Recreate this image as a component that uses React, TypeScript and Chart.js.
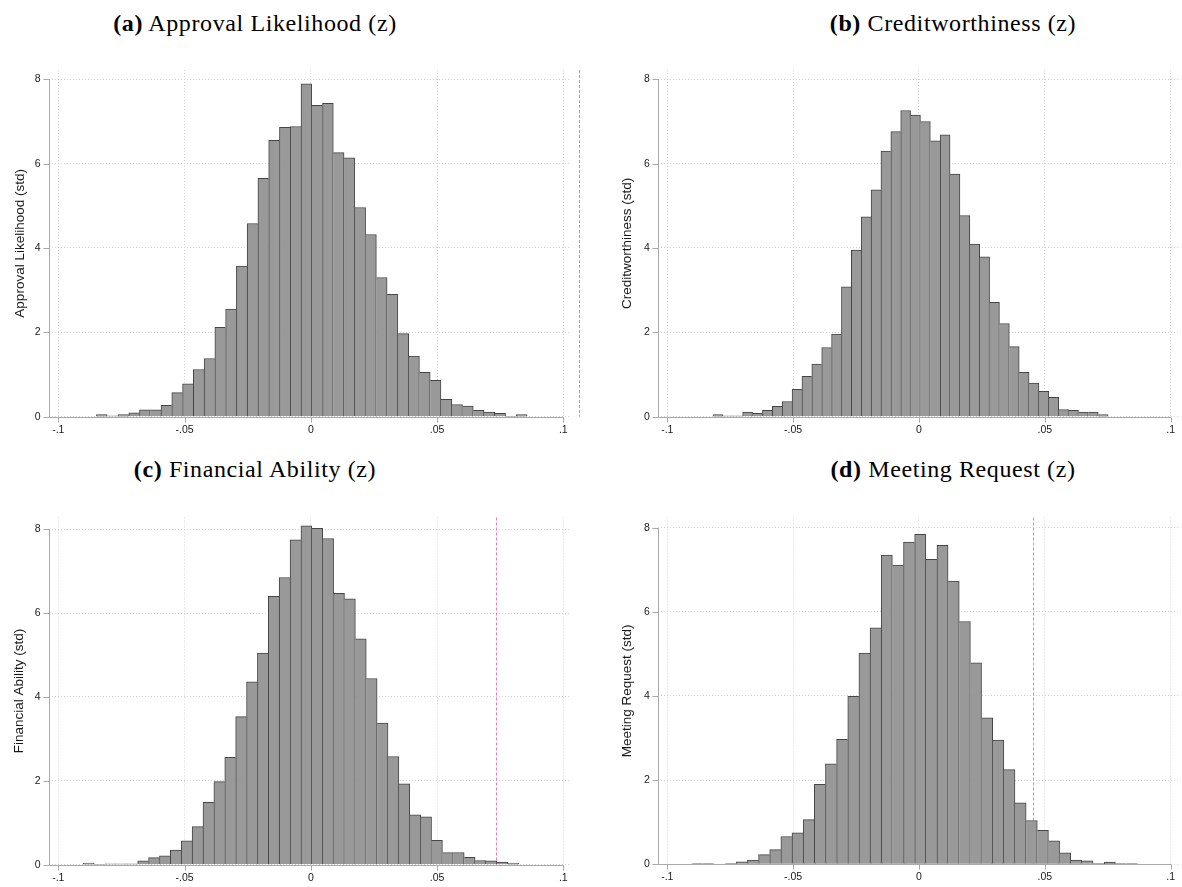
import React, { useEffect, useRef } from 'react';
import { Chart, registerables } from 'chart.js';

Chart.register(...registerables);

// ---- axis ticks ----
const xTickValues = [-0.1, -0.05, 0, 0.05, 0.1];
const xTickLabels = ['-.1', '-.05', '0', '.05', '.1'];
const yTickValues = [0, 2, 4, 6, 8];

// ---- (a) Approval Likelihood ----
const approvalBinStart = -0.0849;
const approvalBinWidth = 0.004264;
const approvalDensity = [
  0.05, 0.02, 0.05, 0.09, 0.16, 0.16, 0.27, 0.57, 0.78, 1.12,
  1.38, 2.12, 2.55, 3.57, 4.58, 5.65, 6.55, 6.86, 6.88, 7.89,
  7.38, 7.43, 6.26, 6.14, 4.96, 4.32, 3.3, 2.9, 1.97, 1.44,
  1.05, 0.86, 0.41, 0.29, 0.25, 0.15, 0.11, 0.08, 0, 0.05,
];
const approvalRefLine = 0.1063;

// ---- (b) Creditworthiness ----
const creditBinStart = -0.0818;
const creditBinWidth = 0.003924;
const creditDensity = [
  0.05, 0.02, 0.02, 0.11, 0.08, 0.15, 0.245, 0.36, 0.65, 0.96,
  1.25, 1.64, 1.96, 3.08, 3.95, 4.74, 5.38, 6.3, 6.76, 7.26,
  7.15, 7.0, 6.54, 6.68, 5.75, 4.77, 4.09, 3.79, 2.71, 2.21,
  1.66, 1.05, 0.8, 0.6, 0.46, 0.17, 0.15, 0.11, 0.11, 0.05,
];
const creditRefLine: number | null = null;

// ---- (c) Financial Ability ----
const financialBinStart = -0.0901;
const financialBinWidth = 0.00431;
const financialDensity = [
  0.04, 0, 0.02, 0.02, 0.02, 0.09, 0.17, 0.21, 0.35, 0.57,
  0.91, 1.49, 1.98, 2.56, 3.53, 4.36, 5.05, 6.4, 6.85, 7.75,
  8.08, 8.02, 7.78, 6.47, 6.34, 5.39, 4.44, 3.38, 2.58, 1.93,
  1.19, 1.14, 0.58, 0.29, 0.29, 0.175, 0.1, 0.09, 0.06, 0.04,
];
const financialRefLine = 0.0733;

// ---- (d) Meeting Request ----
const meetingBinStart = -0.0903;
const meetingBinWidth = 0.00443;
const meetingDensity = [
  0.02, 0.02, 0, 0.02, 0.06, 0.1, 0.23, 0.35, 0.66, 0.75,
  1.06, 1.9, 2.39, 2.97, 3.99, 5.02, 5.62, 7.35, 7.11, 7.66,
  7.84, 7.25, 7.58, 6.73, 5.77, 4.79, 3.48, 2.95, 2.25, 1.46,
  1.04, 0.81, 0.56, 0.27, 0.1, 0.08, 0.02, 0.05, 0.02, 0.02,
];
const meetingRefLine = 0.0452;

const SANS = "'Liberation Sans', Arial, Helvetica, sans-serif";
const SERIF = "'Liberation Serif', 'Times New Roman', serif";

type PanelSpec = {
  letter: string;
  title: string;
  yTitle: string;
  binStart: number;
  binWidth: number;
  density: number[];
  refLine: number | null;
  box: { left: number; top: number; width: number; height: number };
  padTop: number;
  padRight: number;
  yAxisWidth: number;
  xAxisHeight: number;
  xMin: number;
  xMax: number;
  yMax: number;
  yTitlePad: number;
  titleCenter: number;
  titleTop: number;
};

const panels: PanelSpec[] = [
  {
    letter: '(a)', title: 'Approval Likelihood (z)', yTitle: 'Approval Likelihood (std)',
    binStart: approvalBinStart, binWidth: approvalBinWidth, density: approvalDensity, refLine: approvalRefLine,
    box: { left: 0, top: 55, width: 590, height: 390 },
    padTop: 15, padRight: 19, yAxisWidth: 49, xAxisHeight: 28.3,
    xMin: -0.10368, xMax: 0.10305, yMax: 8.22, yTitlePad: 11.9,
    titleCenter: 255, titleTop: 9,
  },
  {
    letter: '(b)', title: 'Creditworthiness (z)', yTitle: 'Creditworthiness (std)',
    binStart: creditBinStart, binWidth: creditBinWidth, density: creditDensity, refLine: creditRefLine,
    box: { left: 590, top: 55, width: 592, height: 390 },
    padTop: 15, padRight: 2, yAxisWidth: 68.3, xAxisHeight: 28.3,
    xMin: -0.10356, xMax: 0.10305, yMax: 8.22, yTitlePad: 28.9,
    titleCenter: 953, titleTop: 9,
  },
  {
    letter: '(c)', title: 'Financial Ability (z)', yTitle: 'Financial Ability (std)',
    binStart: financialBinStart, binWidth: financialBinWidth, density: financialDensity, refLine: financialRefLine,
    box: { left: 0, top: 500, width: 590, height: 387 },
    padTop: 17.5, padRight: 19, yAxisWidth: 49, xAxisHeight: 22.3,
    xMin: -0.10368, xMax: 0.10305, yMax: 8.281, yTitlePad: 10.9,
    titleCenter: 255, titleTop: 455,
  },
  {
    letter: '(d)', title: 'Meeting Request (z)', yTitle: 'Meeting Request (std)',
    binStart: meetingBinStart, binWidth: meetingBinWidth, density: meetingDensity, refLine: meetingRefLine,
    box: { left: 590, top: 500, width: 592, height: 387 },
    padTop: 17.5, padRight: 2, yAxisWidth: 68.3, xAxisHeight: 22.7,
    xMin: -0.10356, xMax: 0.10305, yMax: 8.242, yTitlePad: 28.9,
    titleCenter: 953, titleTop: 455,
  },
];

function stataPlugin(refLine: number | null) {
  return {
    id: 'stataAxes',
    beforeDatasetsDraw(chart: any) {
      if (refLine === null) return;
      const { ctx, chartArea, scales } = chart;
      const x = Math.round(scales.x.getPixelForValue(refLine)) + 0.5;
      ctx.save();
      ctx.strokeStyle = '#e47fb3';
      ctx.lineWidth = 1;
      ctx.setLineDash([3, 2]);
      ctx.beginPath();
      ctx.moveTo(x, chartArea.top);
      ctx.lineTo(x, chartArea.bottom);
      ctx.stroke();
      ctx.restore();
    },
    afterDatasetsDraw(chart: any) {
      const { ctx, chartArea, scales } = chart;
      const xs = scales.x;
      const ys = scales.y;
      const y0 = Math.round(ys.getPixelForValue(0)) + 0.5;
      const xl = Math.round(chartArea.left) + 0.5;
      ctx.save();
      ctx.strokeStyle = '#a9a9a9';
      ctx.lineWidth = 1;
      ctx.setLineDash([]);
      ctx.beginPath();
      // x axis line
      ctx.moveTo(xl, y0);
      ctx.lineTo(xs.getPixelForValue(xTickValues[xTickValues.length - 1]) + 0.5, y0);
      // y axis line
      ctx.moveTo(xl, y0);
      ctx.lineTo(xl, Math.round(ys.getPixelForValue(yTickValues[yTickValues.length - 1])));
      // x ticks
      for (const v of xTickValues) {
        const px = Math.round(xs.getPixelForValue(v)) + 0.5;
        ctx.moveTo(px, y0);
        ctx.lineTo(px, y0 + 5);
      }
      // y ticks
      for (const v of yTickValues) {
        const py = Math.round(ys.getPixelForValue(v)) + 0.5;
        ctx.moveTo(xl - 6, py);
        ctx.lineTo(xl, py);
      }
      ctx.stroke();
      ctx.restore();
    },
  };
}

function HistPanel({ spec }: { spec: PanelSpec }) {
  const ref = useRef<HTMLCanvasElement | null>(null);
  useEffect(() => {
    if (!ref.current) return;
    const d = spec.density;
    const points = d.map((h, i) => ({ x: spec.binStart + (i + 0.5) * spec.binWidth, y: h }));
    const chart = new Chart(ref.current, {
      type: 'bar',
      data: {
        datasets: [
          {
            data: points as any,
            backgroundColor: '#999999',
            borderColor: '#454545',
            borderWidth: ((c: any) => {
              const i = c.dataIndex;
              const cur = d[i];
              const prev = i > 0 ? d[i - 1] : -1;
              const next = i < d.length - 1 ? d[i + 1] : -1;
              return { top: 1, left: prev < cur ? 1 : 0, right: next <= cur ? 1 : 0, bottom: 0 };
            }) as any,
            borderSkipped: false,
            barPercentage: 1,
            categoryPercentage: 1,
          } as any,
        ],
      },
      options: {
        responsive: false,
        animation: false,
        events: [],
        layout: { padding: { top: spec.padTop, right: spec.padRight, left: 0, bottom: 0 }, autoPadding: false } as any,
        plugins: { legend: { display: false }, tooltip: { enabled: false }, title: { display: false } },
        scales: {
          x: {
            type: 'linear',
            min: spec.xMin,
            max: spec.xMax,
            offset: false,
            afterBuildTicks: (s: any) => {
              s.ticks = xTickValues.map((v) => ({ value: v }));
            },
            afterFit: (s: any) => {
              s.height = spec.xAxisHeight;
            },
            ticks: {
              autoSkip: false,
              maxRotation: 0,
              padding: 7,
              color: '#1a1a1a',
              font: { family: SANS, size: 10.5 },
              callback: (_v: any, i: number) => xTickLabels[i],
            },
            grid: { color: '#d4d4d4', lineWidth: 1, drawTicks: false, offset: false },
            border: { display: false, dash: [1, 2] },
          } as any,
          y: {
            type: 'linear',
            min: 0,
            max: spec.yMax,
            afterBuildTicks: (s: any) => {
              s.ticks = yTickValues.map((v) => ({ value: v }));
            },
            afterFit: (s: any) => {
              s.width = spec.yAxisWidth;
            },
            ticks: {
              padding: 8.5,
              color: '#1a1a1a',
              font: { family: SANS, size: 10.5 },
              callback: (v: any) => String(v),
            },
            grid: { color: '#d4d4d4', lineWidth: 1, drawTicks: false },
            border: { display: false, dash: [1, 2] },
            title: {
              display: true,
              text: spec.yTitle,
              color: '#1a1a1a',
              font: { family: SANS, size: 13.5 },
              padding: { top: spec.yTitlePad, bottom: 0 },
            },
          } as any,
        },
      },
      plugins: [stataPlugin(spec.refLine) as any],
    });
    return () => chart.destroy();
  }, [spec]);
  return (
    <canvas
      ref={ref}
      width={spec.box.width}
      height={spec.box.height}
      style={{
        position: 'absolute',
        left: spec.box.left,
        top: spec.box.top,
        width: spec.box.width,
        height: spec.box.height,
      }}
    />
  );
}

export default function App() {
  useEffect(() => {
    document.body.style.margin = '0';
    document.body.style.background = '#ffffff';
  }, []);
  return (
    <div style={{ position: 'relative', width: 1182, height: 887, background: '#ffffff', overflow: 'hidden' }}>
      {panels.map((p) => (
        <div
          key={p.letter + '-title'}
          style={{
            position: 'absolute',
            left: p.titleCenter,
            top: p.titleTop,
            transform: 'translateX(-50%)',
            whiteSpace: 'nowrap',
            fontFamily: SERIF,
            fontSize: 24,
            lineHeight: '28px',
            letterSpacing: '0.6px',
            color: '#000',
          }}
        >
          <span style={{ fontWeight: 'bold' }}>{p.letter}</span> {p.title}
        </div>
      ))}
      {panels.map((p) => (
        <HistPanel key={p.letter} spec={p} />
      ))}
    </div>
  );
}
